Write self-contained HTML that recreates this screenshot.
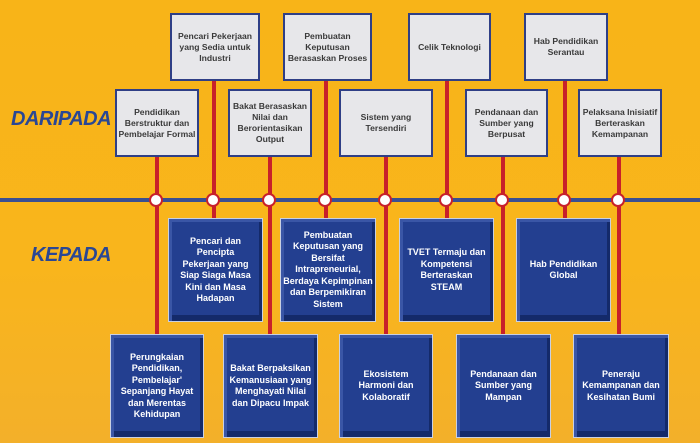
<!DOCTYPE html>
<html><head><style>
body{margin:0;}
#c{position:relative;width:700px;height:443px;overflow:hidden;background:linear-gradient(180deg,#f8b418 0%,#f9b51c 60%,#f3b02a 100%);font-family:"Liberation Sans",sans-serif;}
.l{position:absolute;font-style:italic;font-weight:bold;color:#2a4794;font-size:20px;letter-spacing:-0.5px;}
.t{position:absolute;box-sizing:border-box;background:#e7e7ea;border:2px solid #2f3f86;display:flex;align-items:center;justify-content:center;text-align:center;font-size:8.6px;line-height:11px;color:#3a3a3a;font-weight:bold;padding:0 1px;}
.b{position:absolute;box-sizing:border-box;background:#233f90;border:1px solid #c9d0e2;box-shadow:inset 3px 3px 0 #3a56a6,inset -3px -6px 0 #142a6a;display:flex;align-items:center;justify-content:center;text-align:center;font-size:9px;line-height:11.5px;color:#fff;font-weight:bold;padding:0 6px;}
.v{position:absolute;width:4px;background:#c8202a;}
.h{position:absolute;left:0;top:198px;width:700px;height:4px;background:#3a4f92;}
.o{position:absolute;top:193px;width:10px;height:10px;border-radius:50%;background:#fff;border:2.5px solid #c8202a;}
</style></head><body><div id="c">
<div class="l" style="left:11px;top:108px">DARIPADA</div>
<div class="l" style="left:31px;top:244px">KEPADA</div>
<div class="h"></div>
<div class="v" style="left:155px;top:156px;height:180px"></div>
<div class="v" style="left:212px;top:80px;height:140px"></div>
<div class="v" style="left:268px;top:156px;height:180px"></div>
<div class="v" style="left:324px;top:80px;height:140px"></div>
<div class="v" style="left:384px;top:156px;height:180px"></div>
<div class="v" style="left:445px;top:80px;height:140px"></div>
<div class="v" style="left:501px;top:156px;height:180px"></div>
<div class="v" style="left:563px;top:80px;height:140px"></div>
<div class="v" style="left:617px;top:156px;height:180px"></div>
<div class="o" style="left:149px"></div><div class="o" style="left:206px"></div><div class="o" style="left:262px"></div><div class="o" style="left:318px"></div><div class="o" style="left:378px"></div><div class="o" style="left:439px"></div><div class="o" style="left:495px"></div><div class="o" style="left:557px"></div><div class="o" style="left:611px"></div>
<div class="t" style="left:170px;top:13px;width:90px;height:68px">Pencari Pekerjaan yang Sedia untuk Industri</div>
<div class="t" style="left:283px;top:13px;width:89px;height:68px">Pembuatan Keputusan Berasaskan Proses</div>
<div class="t" style="left:408px;top:13px;width:83px;height:68px">Celik Teknologi</div>
<div class="t" style="left:524px;top:13px;width:84px;height:68px">Hab Pendidikan Serantau</div>
<div class="t" style="left:115px;top:89px;width:84px;height:68px">Pendidikan Berstruktur dan Pembelajar Formal</div>
<div class="t" style="left:228px;top:89px;width:84px;height:68px">Bakat Berasaskan Nilai dan Berorientasikan Output</div>
<div class="t" style="left:339px;top:89px;width:94px;height:68px">Sistem yang Tersendiri</div>
<div class="t" style="left:465px;top:89px;width:83px;height:68px">Pendanaan dan Sumber yang Berpusat</div>
<div class="t" style="left:578px;top:89px;width:84px;height:68px">Pelaksana Inisiatif Berteraskan Kemampanan</div>
<div class="b" style="left:168px;top:218px;width:95px;height:104px">Pencari dan Pencipta Pekerjaan yang Siap Siaga Masa Kini dan Masa Hadapan</div>
<div class="b" style="left:280px;top:218px;width:96px;height:104px;padding:0 1px">Pembuatan Keputusan yang Bersifat Intrapreneurial, Berdaya Kepimpinan dan Berpemikiran Sistem</div>
<div class="b" style="left:399px;top:218px;width:95px;height:104px">TVET Termaju dan Kompetensi Berteraskan STEAM</div>
<div class="b" style="left:516px;top:218px;width:95px;height:104px">Hab Pendidikan Global</div>
<div class="b" style="left:110px;top:334px;width:94px;height:104px;padding:0 3px">Perungkaian Pendidikan, Pembelajar' Sepanjang Hayat dan Merentas Kehidupan</div>
<div class="b" style="left:223px;top:334px;width:95px;height:104px;padding:0 3px">Bakat Berpaksikan Kemanusiaan yang Menghayati Nilai dan Dipacu Impak</div>
<div class="b" style="left:339px;top:334px;width:94px;height:104px">Ekosistem Harmoni dan Kolaboratif</div>
<div class="b" style="left:456px;top:334px;width:95px;height:104px">Pendanaan dan Sumber yang Mampan</div>
<div class="b" style="left:573px;top:334px;width:96px;height:104px">Peneraju Kemampanan dan Kesihatan Bumi</div>
</div></body></html>
